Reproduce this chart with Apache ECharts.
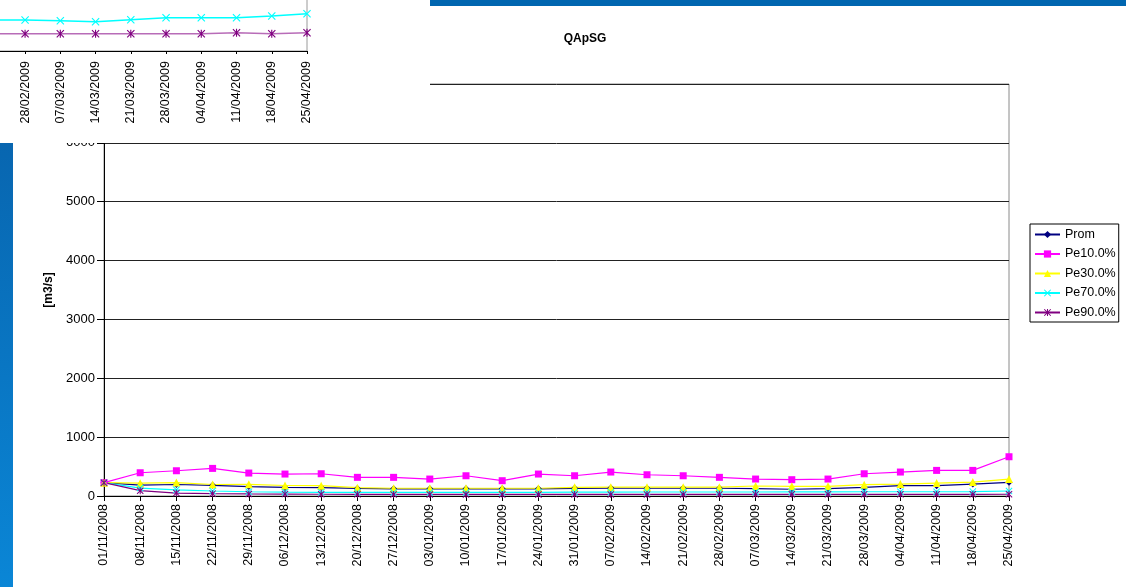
<!DOCTYPE html>
<html>
<head>
<meta charset="utf-8">
<script src="https://cdn.jsdelivr.net/npm/echarts@6/dist/echarts.min.js"></script>
<style>
  html, body { margin: 0; padding: 0; background: #ffffff; }
  #chart { width: 1126px; height: 587px; }
</style>
</head>
<body>
<div id="chart"></div>
<script>
// Weekly dates (Saturday series)
const categories = [
  '01/11/2008', '08/11/2008', '15/11/2008', '22/11/2008', '29/11/2008', '06/12/2008',
  '13/12/2008', '20/12/2008', '27/12/2008', '03/01/2009', '10/01/2009', '17/01/2009',
  '24/01/2009', '31/01/2009', '07/02/2009', '14/02/2009', '21/02/2009', '28/02/2009',
  '07/03/2009', '14/03/2009', '21/03/2009', '28/03/2009', '04/04/2009', '11/04/2009',
  '18/04/2009', '25/04/2009'
];

// QApSG flows [m3/s]
const prom  = [226, 185, 195, 182, 160, 145, 143, 128, 122, 122, 122, 122, 122, 130, 135, 132, 132, 132, 125, 115, 125, 145, 175, 175, 203, 232];
const pe10  = [226, 395, 429, 469, 390, 373, 378, 317, 317, 288, 344, 260, 373, 344, 407, 361, 344, 317, 288, 277, 288, 378, 407, 435, 435, 667];
const pe30  = [226, 218, 228, 195, 198, 178, 175, 141, 132, 132, 132, 132, 132, 147, 150, 150, 150, 150, 170, 164, 164, 192, 203, 220, 237, 288];
const pe70  = [226, 135, 105, 85, 72, 65, 62, 62, 60, 60, 60, 60, 62, 65, 65, 68, 68, 68, 68, 70, 70, 72, 72, 72, 75, 85];
const pe90  = [226, 90, 50, 40, 35, 32, 30, 28, 27, 26, 26, 26, 26, 27, 27, 27, 27, 28, 28, 28, 28, 28, 28, 28, 28, 30];

// Partially visible neighbouring window: tail of its Pe70 / Pe90 curves
const insetPe70 = [null, null, null, null, null, null, null, null, null, null, null, null, null, null, null, null,
                   310, 310, 303, 293, 313, 333, 333, 333, 350, 373];
const insetPe90 = [null, null, null, null, null, null, null, null, null, null, null, null, null, null, null, null,
                   173, 173, 173, 173, 173, 173, 173, 183, 173, 183];

const seriesNames = ['Prom', 'Pe10.0%', 'Pe30.0%', 'Pe70.0%', 'Pe90.0%'];

const FONT = '"Liberation Sans", Arial, sans-serif';
const crossPath = 'path://M0,1L1,0L5,4L9,0L10,1L6,5L10,9L9,10L5,6L1,10L0,9L4,5Z';
const starPath = crossPath + 'M4.3,0H5.7V10H4.3Z';

function lineSeries(name, data, color, symbol, size, extra) {
  return Object.assign({
    name: name,
    type: 'line',
    data: data,
    symbol: symbol,
    symbolSize: size,
    showAllSymbol: true,
    lineStyle: { color: color, width: 1.2 },
    itemStyle: { color: color, borderWidth: 0 },
    emphasis: { disabled: true }
  }, extra || {});
}

const chart = echarts.init(document.getElementById('chart'), null, { renderer: 'canvas' });

chart.setOption({
  animation: false,
  backgroundColor: '#ffffff',
  textStyle: { fontFamily: FONT },
  title: {
    text: 'QApSG',
    left: 580,
    top: 28,
    textAlign: 'center',
    textStyle: { fontSize: 12, fontWeight: 'bold', color: '#000', fontFamily: FONT }
  },
  legend: {
    orient: 'vertical',
    left: 1030,
    top: 224,
    padding: [4, 3, 3, 4],
    itemWidth: 25,
    itemHeight: 9,
    itemGap: 6.5,
    borderColor: '#000',
    borderWidth: 1,
    data: seriesNames,
    textStyle: { fontSize: 12.5, color: '#000', fontFamily: FONT }
  },
  grid: [
    {
      left: 104, top: 84, right: 117, bottom: 91,
      outerBoundsMode: 'none', containLabel: false,
      show: true, borderColor: '#8a8a8a', borderWidth: 1, backgroundColor: 'transparent'
    },
    {
      left: -574, top: -49, width: 881, height: 100, z: 60,
      outerBoundsMode: 'none', containLabel: false,
      show: true, borderColor: '#9a9a9a', borderWidth: 1, backgroundColor: 'transparent'
    }
  ],
  xAxis: [
    {
      gridIndex: 0,
      type: 'category',
      data: categories,
      boundaryGap: false,
      axisLine: { lineStyle: { color: '#000', width: 1 } },
      axisTick: { show: true, length: 5, interval: 0, lineStyle: { color: '#000' } },
      axisLabel: { rotate: 90, interval: 0, margin: 8, fontSize: 12.5, color: '#000', fontFamily: FONT },
      splitLine: { show: false }
    },
    {
      gridIndex: 1,
      type: 'category',
      data: categories,
      boundaryGap: false,
      z: 61,
      axisLine: { lineStyle: { color: '#000', width: 1 } },
      axisTick: { show: true, length: 3, interval: 0, lineStyle: { color: '#000' } },
      axisLabel: { rotate: 90, interval: 0, margin: 10, fontSize: 12.5, color: '#000', fontFamily: FONT },
      splitLine: { show: false }
    }
  ],
  yAxis: [
    {
      gridIndex: 0,
      type: 'value',
      min: 0,
      max: 7000,
      interval: 1000,
      name: '[m3/s]',
      nameLocation: 'middle',
      nameGap: 47,
      nameTextStyle: { fontSize: 12, fontWeight: 'bold', color: '#000', fontFamily: FONT },
      axisLine: { show: true, lineStyle: { color: '#000', width: 1 } },
      axisTick: { show: true, length: 7, lineStyle: { color: '#000' } },
      axisLabel: {
        margin: 9, fontSize: 13, color: '#000', fontFamily: FONT,
        formatter: function (v) { return String(v); }
      },
      splitLine: { show: true, lineStyle: { color: '#222', width: 1 } }
    },
    {
      gridIndex: 1,
      type: 'value',
      min: 0,
      max: 1000,
      show: false,
      splitLine: { show: false }
    }
  ],
  graphic: [
    {
      type: 'rect', z: 1,
      shape: { x: 0, y: 143, width: 13, height: 444 },
      style: {
        fill: new echarts.graphic.LinearGradient(0, 0, 0, 1, [
          { offset: 0, color: '#0866b0' },
          { offset: 1, color: '#0a86d6' }
        ])
      }
    },
    {
      type: 'rect', z: 1,
      shape: { x: 430, y: 0, width: 696, height: 6 },
      style: { fill: '#0066b0' }
    },
    {
      type: 'rect', z: 50,
      shape: { x: 0, y: 0, width: 430, height: 143 },
      style: { fill: '#ffffff' }
    }
  ],
  series: [
    lineSeries('Prom', prom, '#000080', 'diamond', 7),
    lineSeries('Pe10.0%', pe10, '#ff00ff', 'rect', 7),
    lineSeries('Pe30.0%', pe30, '#ffff00', 'triangle', 8),
    lineSeries('Pe70.0%', pe70, '#00ffff', crossPath, 7),
    lineSeries('Pe90.0%', pe90, '#800080', starPath, 7),
    lineSeries('Pe70.0% ', insetPe70, '#00ffff', crossPath, 8, {
      xAxisIndex: 1, yAxisIndex: 1, z: 62, lineStyle: { color: '#00ffff', width: 1.4 }
    }),
    lineSeries('Pe90.0% ', insetPe90, '#800080', starPath, 8, {
      xAxisIndex: 1, yAxisIndex: 1, z: 62, lineStyle: { color: '#b86cb8', width: 1.6 }
    })
  ]
});
</script>
</body>
</html>
